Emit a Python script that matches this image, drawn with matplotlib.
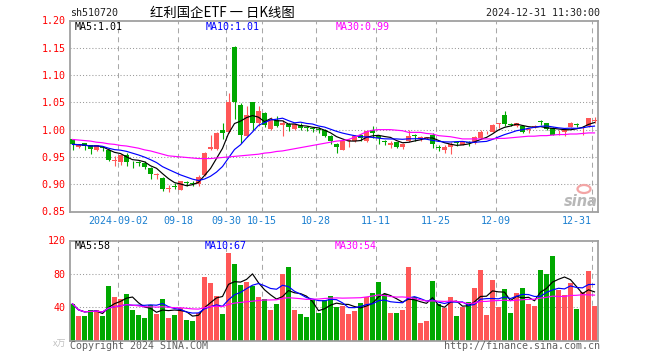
import numpy as np
import pandas as pd
import matplotlib
matplotlib.use('Agg')
import matplotlib.pyplot as plt
from matplotlib.patches import Ellipse

# daily OHLC, 2024-08-21 .. 2024-12-31 (index 8 = 2024-09-02)
opens = [0.982, 0.968, 0.975, 0.971, 0.962, 0.969, 0.963, 0.943, 0.941, 0.954,
         0.941, 0.940, 0.939, 0.930, 0.917, 0.912, 0.892, 0.896, 0.890, 0.903,
         0.902, 0.900, 0.917, 0.964, 0.964, 1.000, 0.995, 1.152, 1.046, 0.988,
         1.050, 1.012, 1.030, 1.002, 1.018, 1.008, 1.010, 1.001, 1.009, 1.004,
         1.002, 1.002, 0.999, 0.989, 0.974, 0.963, 0.979, 0.980, 0.990, 0.979,
         1.000, 0.989, 0.980, 0.971, 0.977, 0.969, 0.979, 0.991, 0.983, 0.985,
         0.991, 0.967, 0.963, 0.968, 0.976, 0.972, 0.976, 0.976, 0.985, 0.993,
         0.996, 1.010, 1.027, 1.009, 1.007, 1.006, 0.999, 1.005, 1.015, 1.012,
         1.003, 0.993, 0.995, 1.005, 1.010, 1.004, 1.006, 1.016]
highs = [0.983, 0.974, 0.976, 0.972, 0.972, 0.970, 0.964, 0.952, 0.956, 0.958,
         0.942, 0.943, 0.943, 0.931, 0.921, 0.913, 0.898, 0.903, 0.906, 0.906,
         0.905, 0.917, 0.959, 0.991, 0.995, 1.012, 1.067, 1.154, 1.048, 1.044,
         1.051, 1.043, 1.033, 1.023, 1.025, 1.018, 1.012, 1.012, 1.012, 1.006,
         1.004, 1.004, 1.001, 0.990, 0.976, 0.982, 0.982, 0.990, 0.992, 1.000,
         1.007, 0.991, 0.981, 0.979, 0.978, 0.976, 0.999, 0.992, 0.988, 0.987,
         0.994, 0.971, 0.971, 0.977, 0.977, 0.979, 0.979, 0.988, 1.000, 0.997,
         1.011, 1.013, 1.035, 1.012, 1.013, 1.008, 1.003, 1.009, 1.018, 1.013,
         1.004, 0.999, 1.001, 1.014, 1.012, 1.006, 1.022, 1.024]
lows = [0.963, 0.966, 0.962, 0.956, 0.960, 0.961, 0.943, 0.934, 0.936, 0.934,
        0.930, 0.933, 0.927, 0.910, 0.909, 0.887, 0.886, 0.891, 0.889, 0.896,
        0.897, 0.897, 0.915, 0.963, 0.962, 0.982, 0.994, 1.020, 0.976, 0.987,
        1.000, 1.006, 1.005, 1.000, 1.004, 0.989, 0.997, 0.999, 1.000, 0.998,
        0.995, 0.994, 0.987, 0.973, 0.958, 0.962, 0.968, 0.978, 0.979, 0.978,
        0.985, 0.973, 0.972, 0.966, 0.966, 0.965, 0.977, 0.979, 0.979, 0.982,
        0.966, 0.961, 0.957, 0.956, 0.970, 0.971, 0.970, 0.973, 0.983, 0.992,
        0.995, 1.003, 1.006, 1.006, 1.005, 0.993, 0.994, 1.003, 1.009, 0.999,
        0.990, 0.991, 0.988, 1.004, 1.004, 0.991, 1.005, 1.012]
closes = [0.973, 0.972, 0.970, 0.965, 0.971, 0.966, 0.945, 0.945, 0.954, 0.941,
          0.940, 0.939, 0.931, 0.918, 0.918, 0.891, 0.893, 0.895, 0.905, 0.902,
          0.901, 0.914, 0.958, 0.969, 0.994, 0.993, 1.050, 1.050, 0.991, 1.026,
          1.012, 1.035, 1.009, 1.018, 1.007, 1.012, 1.005, 1.010, 1.003, 1.003,
          1.001, 0.999, 0.989, 0.979, 0.968, 0.980, 0.980, 0.988, 0.984, 0.998,
          0.993, 0.985, 0.977, 0.976, 0.969, 0.973, 0.989, 0.989, 0.987, 0.986,
          0.973, 0.966, 0.968, 0.974, 0.975, 0.977, 0.975, 0.987, 0.996, 0.994,
          1.009, 1.011, 1.011, 1.008, 1.012, 0.996, 1.000, 1.006, 1.014, 1.001,
          0.991, 0.994, 1.000, 1.013, 1.009, 1.005, 1.021, 1.017]
# volume, 万
volumes = [44, 29.6, 29.6, 36.5, 36.5, 29.6, 65.7, 52.7, 50, 56,
           36.5, 31, 27.5, 42.3, 32, 50, 27.5, 31, 39.4, 24.8,
           23.6, 32.5, 76.3, 69.5, 53.7, 32, 105.5, 92.2, 67, 69.7,
           65.3, 52.3, 50.2, 36.8, 44, 80, 88.7, 36.8, 32, 28.6,
           48.2, 33.3, 48.2, 53.7, 40.7, 41.7, 32, 35.6, 45.4, 52.3,
           57.5, 70.7, 56, 33.3, 33.3, 36.8, 88.7, 52.3, 21.4, 23.8,
           71, 44, 39.4, 52.6, 29.6, 40.4, 46.4, 63.5, 84.5, 30.9,
           72.5, 40.4, 62, 33.3, 57, 63, 44, 41, 85, 79.4,
           101, 61, 54.5, 69, 38.2, 58.6, 84, 42]
# 30-day price average as drawn (needs history before the window)
ma30_price = [0.982, 0.981, 0.980, 0.979, 0.977, 0.976, 0.974, 0.973, 0.971, 0.970,
              0.968, 0.966, 0.963, 0.961, 0.958, 0.955, 0.952, 0.951, 0.950, 0.949,
              0.948, 0.947, 0.947, 0.947, 0.948, 0.949, 0.950, 0.951, 0.952, 0.953,
              0.954, 0.955, 0.957, 0.958, 0.960, 0.961, 0.963, 0.965, 0.967, 0.969,
              0.971, 0.973, 0.975, 0.977, 0.979, 0.980, 0.982, 0.986, 0.991, 0.996,
              0.999, 1.000, 1.000, 1.000, 0.999, 0.998, 0.995, 0.995, 0.995, 0.993,
              0.992, 0.989, 0.988, 0.987, 0.985, 0.983, 0.983, 0.983, 0.983, 0.983,
              0.983, 0.984, 0.984, 0.985, 0.986, 0.987, 0.988, 0.988, 0.989, 0.989,
              0.990, 0.991, 0.991, 0.992, 0.992, 0.993, 0.994, 0.994]
tick_idx = [8, 18, 26, 32, 41, 51, 61, 71, 87]
tick_labels = ['2024-09-02', '09-18', '09-30', '10-15', '10-28', '11-11', '11-25', '12-09', '12-31']
price_ticks = [0.85, 0.90, 0.95, 1.00, 1.05, 1.10, 1.15, 1.20]
vol_ticks = [40, 80, 120]

df = pd.DataFrame({'open': opens, 'high': highs, 'low': lows, 'close': closes, 'vol': volumes})
df['ma5'] = df['close'].rolling(5, min_periods=1).mean()
df['ma10'] = df['close'].rolling(10, min_periods=1).mean()
df['vma5'] = df['vol'].rolling(5, min_periods=1).mean()
df['vma10'] = df['vol'].rolling(10, min_periods=1).mean()
df['vma30'] = df['vol'].rolling(30, min_periods=1).mean()

RED = '#ff5757'
GREEN = '#00a800'
col = np.where(df['close'] >= df['open'], RED, GREEN)
x = np.arange(len(df))
mono = 'DejaVu Sans Mono'

W, H = 660, 360
def box(l, t, r, b):
    return [l / W, 1 - b / H, (r - l) / W, (b - t) / H]

fig = plt.figure(figsize=(6.6, 3.6), dpi=100)
ax = fig.add_axes(box(70, 20.5, 598, 211.5))
axv = fig.add_axes(box(70, 240.5, 598, 340.5))
xlim = (-2.5 / 6, 87 + 3.5 / 6)

for a in (ax, axv):
    a.set_xlim(*xlim)
    for s in a.spines.values():
        s.set_color('#a0a0a0')
        s.set_linewidth(1.3)
    for t in tick_idx:
        a.axvline(t - 2.5 / 6, color='#a8a8a8', lw=0.75, ls=(0, (4.8, 3.8)), zorder=0)
    a.tick_params(length=0)

# price panel
for lv in price_ticks[1:-1]:
    ax.axhline(lv, color='#9a9a9a', lw=0.75, ls=(0, (1, 2)), zorder=0)
ax.vlines(x, df['low'], df['high'], colors=col, lw=0.8, zorder=2)
body_bot = np.minimum(df['open'], df['close'])
body_h = np.maximum((df['close'] - df['open']).abs(), 0.0016)
ax.bar(x, body_h, bottom=body_bot, width=0.8, color=col, linewidth=0, zorder=3)
ax.plot(x, df['ma5'], color='black', lw=0.85, zorder=4)
ax.plot(x, df['ma10'], color='#0000ff', lw=0.85, zorder=4)
ax.plot(x, ma30_price, color='#ff00ff', lw=0.85, zorder=4)
ax.set_ylim(0.85, 1.20)
ax.set_yticks(price_ticks)
ax.set_yticklabels([f'{v:.2f}' for v in price_ticks], color='#ff0000', family=mono, fontsize=7.2)
ax.tick_params(axis='y', pad=3)
ax.set_xticks([t - 2.5 / 6 for t in tick_idx])
ax.set_xticklabels(tick_labels, color='#1a7fd0', family=mono, fontsize=7.2)
ax.tick_params(axis='x', pad=3.5)
ax.get_xticklabels()[-1].set_ha('right')

# volume panel
for lv in vol_ticks[:-1]:
    axv.axhline(lv, color='#9a9a9a', lw=0.75, ls=(0, (1, 2)), zorder=0)
axv.bar(x, df['vol'], width=0.8, color=col, linewidth=0, zorder=2)
axv.plot(x, df['vma5'], color='black', lw=0.85, zorder=4)
axv.plot(x, df['vma10'], color='#0000ff', lw=0.85, zorder=4)
axv.plot(x, df['vma30'], color='#ff00ff', lw=0.85, zorder=4)
axv.set_ylim(0, 120)
axv.set_yticks(vol_ticks)
axv.set_yticklabels([str(v) for v in vol_ticks], color='#ff0000', family=mono, fontsize=7.2)
axv.tick_params(axis='y', pad=3)
axv.set_xticks([])

def ftext(px, py, s, **kw):
    kw.setdefault('family', mono)
    kw.setdefault('fontsize', 7.2)
    kw.setdefault('va', 'center')
    fig.text(px / W, 1 - py / H, s, **kw)

# header
ftext(70, 12.5, 'sh510720', color='#202020')
ftext(150, 12.5, '红利国企ETF 一 日K线图', family=['Noto Sans CJK SC', 'DejaVu Sans'],
      fontsize=9.6, color='black')
ftext(600, 12.5, '2024-12-31 11:30:00', ha='right', color='#202020')

# MA legends
ftext(75, 27, f"MA5:{df['ma5'].iloc[-1]:.2f}", color='black')
ftext(206, 27, f"MA10:{df['ma10'].iloc[-1]:.2f}", color='#0000ff')
ftext(336, 27, f"MA30:{ma30_price[-1]:.2f}", color='#ff00ff')
ftext(75, 246, f"MA5:{df['vma5'].iloc[-1]:.0f}", color='black')
ftext(205, 246, f"MA10:{df['vma10'].iloc[-1]:.0f}", color='#0000ff')
ftext(335, 246, f"MA30:{df['vma30'].iloc[-1]:.0f}", color='#ff00ff')

# footer
ftext(66, 344, 'x万', ha='right', family=['Noto Sans CJK SC', 'DejaVu Sans'],
      fontsize=6.5, color='#c0c0c0')
ftext(70, 346, 'Copyright 2024 SINA.COM', color='#606060')
ftext(600, 346, 'http://finance.sina.com.cn', ha='right', color='#606060')

# sina watermark
fig.add_artist(Ellipse((584 / W, 1 - 189 / H), 13 / W, 8 / H, transform=fig.transFigure,
                       facecolor='none', edgecolor='#f3a5a5', lw=1.6))
ftext(581, 202, 'sina', ha='center', family='DejaVu Sans', fontsize=10.5,
      fontweight='bold', style='italic', color='#b8b8b8')

fig.savefig('out.png', dpi=100, facecolor='white')
